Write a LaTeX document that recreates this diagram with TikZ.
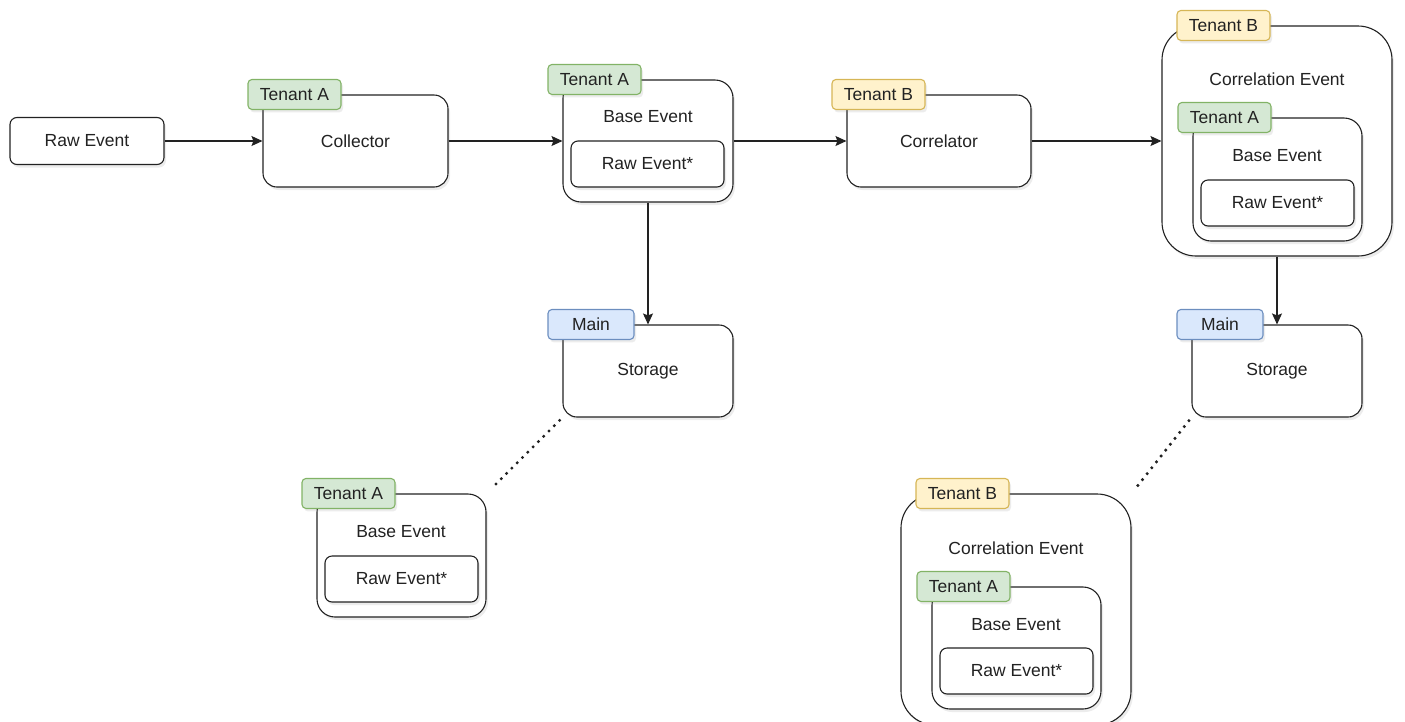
\documentclass[tikz,border=0pt]{standalone}
\usepackage{fontspec}
\setmainfont{Liberation Sans}
\usepackage{tikz}
\usetikzlibrary{arrows.meta,positioning,shadows}
\definecolor{tgAfill}{HTML}{D5E8D4}
\definecolor{tgAline}{HTML}{82B366}
\definecolor{tgBfill}{HTML}{FFF2CC}
\definecolor{tgBline}{HTML}{D6B656}
\definecolor{tgMfill}{HTML}{DAE8FC}
\definecolor{tgMline}{HTML}{6C8EBF}
\definecolor{ink}{HTML}{222222}
\newcommand{\evfont}{\fontsize{17.5}{21}\selectfont}

\begin{document}
\begin{tikzpicture}[x=1pt,y=-1pt,
  sh/.style={drop shadow={shadow xshift=2pt,shadow yshift=-3pt,opacity=0.15,fill=gray}},
  ev/.style={draw=ink,line width=1.1pt,fill=white,sh,inner sep=0pt,font=\evfont,text=ink,
    minimum width=153pt,minimum height=46pt,rounded corners=7pt},
  bx/.style={draw=ink,line width=1.1pt,fill=white,sh,inner sep=0pt,font=\evfont,text=ink,
    minimum width=170pt,minimum height=92pt,rounded corners=14pt},
  be/.style={draw=ink,line width=1.1pt,fill=white,sh,inner sep=0pt,
    minimum width=169pt,minimum height=123pt,rounded corners=18pt},
  ce/.style={draw=ink,line width=1.1pt,fill=white,sh,inner sep=0pt,
    minimum width=230pt,minimum height=231pt,rounded corners=34pt},
  tag/.style={line width=1.1pt,rounded corners=4pt,sh,font=\evfont,text=ink,
    minimum width=93pt,minimum height=30pt,inner sep=0pt,anchor=west},
  tga/.style={tag,draw=tgAline,fill=tgAfill,xshift=-15pt},
  tgb/.style={tag,draw=tgBline,fill=tgBfill},
  tgm/.style={tag,draw=tgMline,fill=tgMfill,minimum width=86pt,xshift=-15pt},
  txt/.style={font=\evfont,text=ink,inner sep=0pt},
  arr/.style={-{Stealth[length=11pt,width=10pt,inset=2pt]},line width=1.1pt,draw=ink},
  dots/.style={line width=3.4pt,draw=ink,dash pattern=on 0pt off 7.5pt,line cap=round,
    shorten <=4pt,shorten >=6pt}]
  \useasboundingbox (0,0) rectangle (1405,721);

  % top row: collector path
  \node[ev,minimum width=154pt,minimum height=47pt] (raw) at (87,141) {Raw Event};
  \node[bx,minimum width=185pt] (col) at (355.5,141) {Collector};
  \node[tga] (tcol) at (col.north west) {Tenant A};

  \node[be,minimum width=170pt,minimum height=122pt] (be1) at (648,141) {};
  \node[txt] (be1t) at (648,117) {Base Event};
  \node[ev] (rw1) at (647.5,164) {Raw Event*};
  \node[tga] (tbe1) at (be1.north west) {Tenant A};

  \node[bx,minimum width=184pt] (cor) at (939,141) {Correlator};
  \node[tgb,xshift=-15pt] (tcor) at (cor.north west) {Tenant B};

  % correlation event (top right)
  \node[ce,minimum height=230pt] (ce1) at (1277,141) {};
  \node[txt] (ce1t) at (1277,79) {Correlation Event};
  \node[tgb,xshift=15pt] (tce1) at (ce1.north west) {Tenant B};
  \node[be] (be2) at (1277.5,179.5) {};
  \node[txt] (be2t) at (1277,156) {Base Event};
  \node[ev] (rw2) at (1277.5,203) {Raw Event*};
  \node[tga] (tbe2) at (be2.north west) {Tenant A};

  % storages
  \node[bx] (st1) at (648,371) {Storage};
  \node[tgm] (tst1) at (st1.north west) {Main};
  \node[bx] (st2) at (1277,371) {Storage};
  \node[tgm] (tst2) at (st2.north west) {Main};

  % stored base event
  \node[be] (be3) at (401.5,555.5) {};
  \node[txt] (be3t) at (401,532) {Base Event};
  \node[ev] (rw3) at (401.5,579) {Raw Event*};
  \node[tga] (tbe3) at (be3.north west) {Tenant A};

  % stored correlation event
  \node[ce] (ce2) at (1016,609.5) {};
  \node[txt] (ce2t) at (1016,548) {Correlation Event};
  \node[tgb,xshift=15pt] (tce2) at (ce2.north west) {Tenant B};
  \node[be,minimum height=122pt] (be4) at (1016.5,648) {};
  \node[txt] (be4t) at (1016,625) {Base Event};
  \node[ev] (rw4) at (1016.5,671) {Raw Event*};
  \node[tga] (tbe4) at (be4.north west) {Tenant A};

  % connectors
  \draw[arr] (raw.east) -- (col.west);
  \draw[arr] (col.east) -- (be1.west);
  \draw[arr] (be1.east) -- (cor.west);
  \draw[arr] (cor.east) -- (ce1.west);
  \draw[arr] (be1.south) -- (st1.north);
  \draw[arr] (ce1.south) -- (st2.north);
  \draw[dots] (st1.south west) -- (be3.north east);
  \draw[dots] (st2.south west) -- (ce2.north east);
\end{tikzpicture}
\end{document}
